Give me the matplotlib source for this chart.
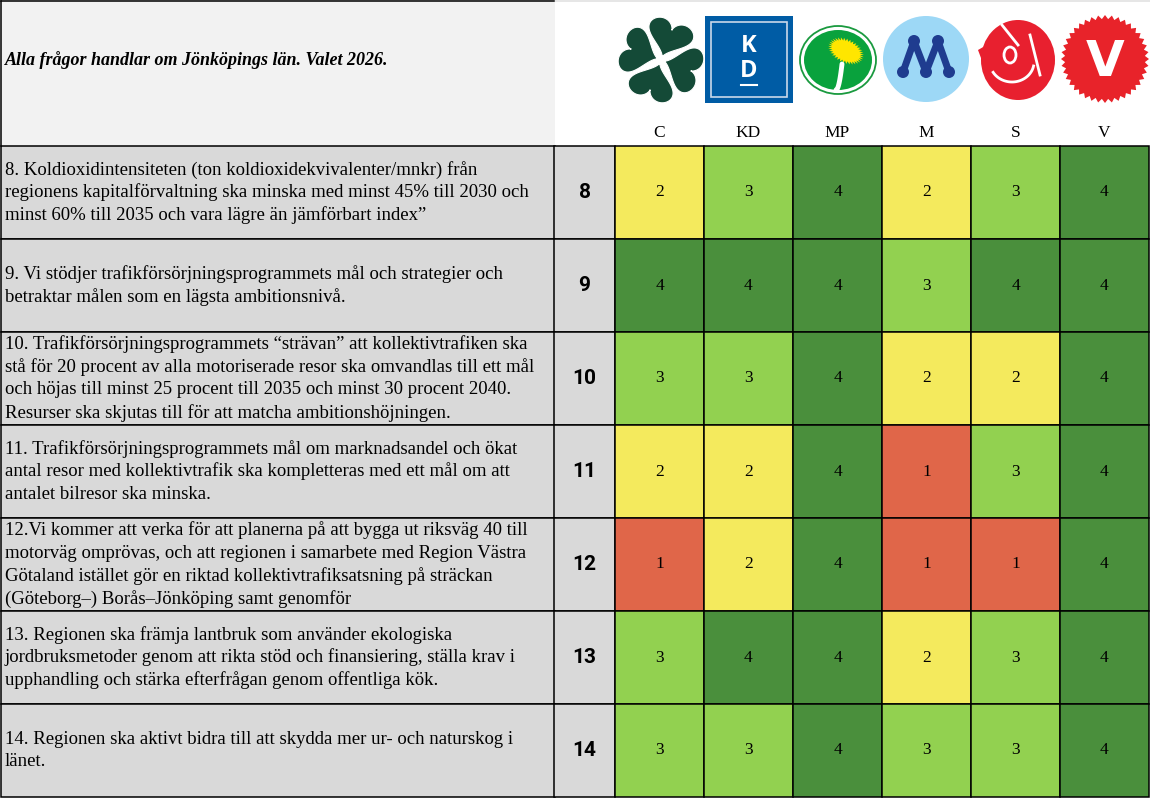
import numpy as np
import matplotlib.pyplot as plt
from matplotlib.patches import Rectangle, Circle, Ellipse, Polygon

# table content
header_text = 'Alla frågor handlar om Jönköpings län. Valet 2026.'
parties = ['C', 'KD', 'MP', 'M', 'S', 'V']
question_numbers = [8, 9, 10, 11, 12, 13, 14]
question_lines = [
    ['8. Koldioxidintensiteten (ton koldioxidekvivalenter/mnkr) från',
     'regionens kapitalförvaltning ska minska med minst 45% till 2030 och',
     'minst 60% till 2035 och vara lägre än jämförbart index”'],
    ['9. Vi stödjer trafikförsörjningsprogrammets mål och strategier och',
     'betraktar målen som en lägsta ambitionsnivå.'],
    ['10. Trafikförsörjningsprogrammets “strävan” att kollektivtrafiken ska',
     'stå för 20 procent av alla motoriserade resor ska omvandlas till ett mål',
     'och höjas till minst 25 procent till 2035 och minst 30 procent 2040.',
     'Resurser ska skjutas till för att matcha ambitionshöjningen.'],
    ['11. Trafikförsörjningsprogrammets mål om marknadsandel och ökat',
     'antal resor med kollektivtrafik ska kompletteras med ett mål om att',
     'antalet bilresor ska minska.'],
    ['12.Vi kommer att verka för att planerna på att bygga ut riksväg 40 till',
     'motorväg omprövas, och att regionen i samarbete med Region Västra',
     'Götaland istället gör en riktad kollektivtrafiksatsning på sträckan',
     '(Göteborg–) Borås–Jönköping samt genomför'],
    ['13. Regionen ska främja lantbruk som använder ekologiska',
     'jordbruksmetoder genom att rikta stöd och finansiering, ställa krav i',
     'upphandling och stärka efterfrågan genom offentliga kök.'],
    ['14. Regionen ska aktivt bidra till att skydda mer ur- och naturskog i',
     'länet.'],
]
scores = [
    [2, 3, 4, 2, 3, 4],
    [4, 4, 4, 3, 4, 4],
    [3, 3, 4, 2, 2, 4],
    [2, 2, 4, 1, 3, 4],
    [1, 2, 4, 1, 1, 4],
    [3, 4, 4, 2, 3, 4],
    [3, 3, 4, 3, 3, 4],
]

score_colors = {1: '#e06649', 2: '#f4ea5d', 3: '#92d150', 4: '#4a8f3c'}

W, H = 1150, 798
col_edges = [0, 554, 615, 704, 793, 882, 971, 1060, 1149]
header_h = 146
row_h = 93
line_gap = 22.8
serif = 'Liberation Serif'
lw_grid = 1.1

fig = plt.figure(figsize=(W / 100, H / 100), dpi=100)
ax = fig.add_axes([0, 0, 1, 1])
ax.set_xlim(0, W)
ax.set_ylim(H, 0)
ax.axis('off')

# header
ax.add_patch(Rectangle((0, 0), W, 2, facecolor='#e6e6e6', edgecolor='none'))
ax.add_patch(Rectangle((0.5, 0.5), col_edges[1], header_h, facecolor='#f2f2f2',
                       edgecolor='none'))
ax.plot([0.5, col_edges[1]], [0.8, 0.8], color='black', lw=lw_grid)
ax.plot([0.8, 0.8], [0.5, header_h], color='black', lw=lw_grid)
ax.text(5, 60, header_text, fontsize=13, fontweight='bold', fontstyle='italic',
        family=serif, va='center', ha='left')

centers = [(col_edges[i] + col_edges[i + 1]) / 2 for i in range(2, 8)]
for cx, p in zip(centers, parties):
    ax.text(cx, 133, p, fontsize=12.5, family=serif, ha='center', va='center')


# --- party logos (simple shapes) ---
def heart(cx, cy, ang, s=1.25, wx=1.0):
    t = np.linspace(0, 2 * np.pi, 120)
    x = 16 * np.sin(t) ** 3 * wx
    y = 13 * np.cos(t) - 5 * np.cos(2 * t) - 2 * np.cos(3 * t) - np.cos(4 * t)
    # point of heart at (0,-17); move it to origin, lobes outward along +y
    y = y + 17
    a = np.deg2rad(ang - 90)
    xr = x * np.cos(a) - y * np.sin(a)
    yr = x * np.sin(a) + y * np.cos(a)
    return np.column_stack([cx + s * xr, cy - s * yr])


cc = (661, 60)
for ang in [70, 160, 250, 340]:
    a = np.deg2rad(ang)
    ox, oy = cc[0] + 3 * np.cos(a), cc[1] - 3 * np.sin(a)
    ax.add_patch(Polygon(heart(ox, oy, ang, 1.3, 1.12), closed=True,
                         facecolor='#144a37', edgecolor='white', lw=0.8))

# KD
ax.add_patch(Rectangle((705, 16), 88, 87, facecolor='#005ca5', edgecolor='none'))
ax.add_patch(Rectangle((711, 22), 76, 75, facecolor='none', edgecolor='#c9d8ea', lw=1.2))
ax.text(749, 46, 'K', color='white', fontsize=17, fontweight='bold', family='Open Sans',
        ha='center', va='center')
ax.text(749, 71, 'D', color='white', fontsize=17, fontweight='bold', family='Open Sans',
        ha='center', va='center')
ax.plot([741, 757], [85, 85], color='white', lw=1.5)

# MP
ax.add_patch(Ellipse((838, 60), 76, 68, facecolor='white', edgecolor='#1a9a3f', lw=1.3))
ax.add_patch(Ellipse((838, 60), 68, 60, facecolor='#09a23d', edgecolor='none'))
nth = 70
th = np.linspace(0, 2 * np.pi, nth, endpoint=False)
rr = np.where(np.arange(nth) % 2 == 0, 1.0, 0.78)
rot = 0.45
ex, ey = 19 * rr * np.cos(th), 12 * rr * np.sin(th)
ax.add_patch(Polygon(np.column_stack([846 + ex * np.cos(rot) - ey * np.sin(rot),
                                      51 + ex * np.sin(rot) + ey * np.cos(rot)]),
                     closed=True, facecolor='#ffe600', edgecolor='none'))
sx = np.linspace(0, 1, 20)
ax.plot(836 + 6 * sx ** 0.5, 90 - 26 * sx, color='white', lw=3.5, solid_capstyle='round')

# M
ax.add_patch(Circle((926, 59), 43, facecolor='#9dd8f6', edgecolor='none'))
mx = [903, 914, 926, 938, 949]
my = [72, 41, 72, 41, 72]
ax.plot(mx, my, color='#1f3c8f', lw=5, solid_joinstyle='round')
for x, y in zip(mx, my):
    ax.add_patch(Circle((x, y), 6, facecolor='#1f3c8f', edgecolor='none'))

# S
ax.add_patch(Ellipse((1018, 60), 74, 80, facecolor='#e8202f', edgecolor='none'))
ax.add_patch(Polygon([[978, 50], [992, 42], [996, 58], [984, 66]], closed=True,
                     facecolor='#e8202f', edgecolor='none'))
arc_t = np.linspace(0.2, 2.6, 40)
ax.plot(1012 + 22 * np.cos(arc_t), 62 + 20 * np.sin(arc_t), color='white', lw=2)
ax.plot([1002, 1018], [25, 45], color='white', lw=2)
ax.plot([1030, 1040], [35, 75], color='white', lw=2)
ax.add_patch(Ellipse((1010, 55), 12, 16, facecolor='none', edgecolor='white', lw=2))

# V
nv = 80
tv = np.linspace(0, 2 * np.pi, nv, endpoint=False)
rv = np.where(np.arange(nv) % 2 == 0, 44, 40)
ax.add_patch(Polygon(np.column_stack([1105 + rv * np.cos(tv), 59 + rv * np.sin(tv)]),
                     closed=True, facecolor='#e8232a', edgecolor='none'))
ax.text(1105, 62, 'V', color='white', fontsize=36, fontweight='bold', family='DejaVu Sans',
        ha='center', va='center')

# body rows
for r, (num, lines, row_scores) in enumerate(zip(question_numbers, question_lines, scores)):
    y0 = header_h + r * row_h
    yc = y0 + row_h / 2
    ax.add_patch(Rectangle((0.8, y0), col_edges[1], row_h, facecolor='#d9d9d9',
                           edgecolor='black', lw=lw_grid))
    ax.add_patch(Rectangle((col_edges[1], y0), col_edges[2] - col_edges[1], row_h,
                           facecolor='#d9d9d9', edgecolor='black', lw=lw_grid))
    n = len(lines)
    for i, line in enumerate(lines):
        ly = yc + (i - (n - 1) / 2) * line_gap
        ax.text(5, ly, line, fontsize=13.5, family=serif, ha='left', va='center')
    ax.text((col_edges[1] + col_edges[2]) / 2, yc, str(num), fontsize=15,
            fontweight='bold', family='Roboto', ha='center', va='center')
    for c, s in enumerate(row_scores):
        x0 = col_edges[c + 2]
        ax.add_patch(Rectangle((x0, y0), col_edges[c + 3] - x0, row_h,
                               facecolor=score_colors[s], edgecolor='black', lw=lw_grid))
        ax.text(x0 + (col_edges[c + 3] - x0) / 2, yc, str(s), fontsize=12.5,
                family=serif, ha='center', va='center')

fig.savefig('out.png', dpi=100)
